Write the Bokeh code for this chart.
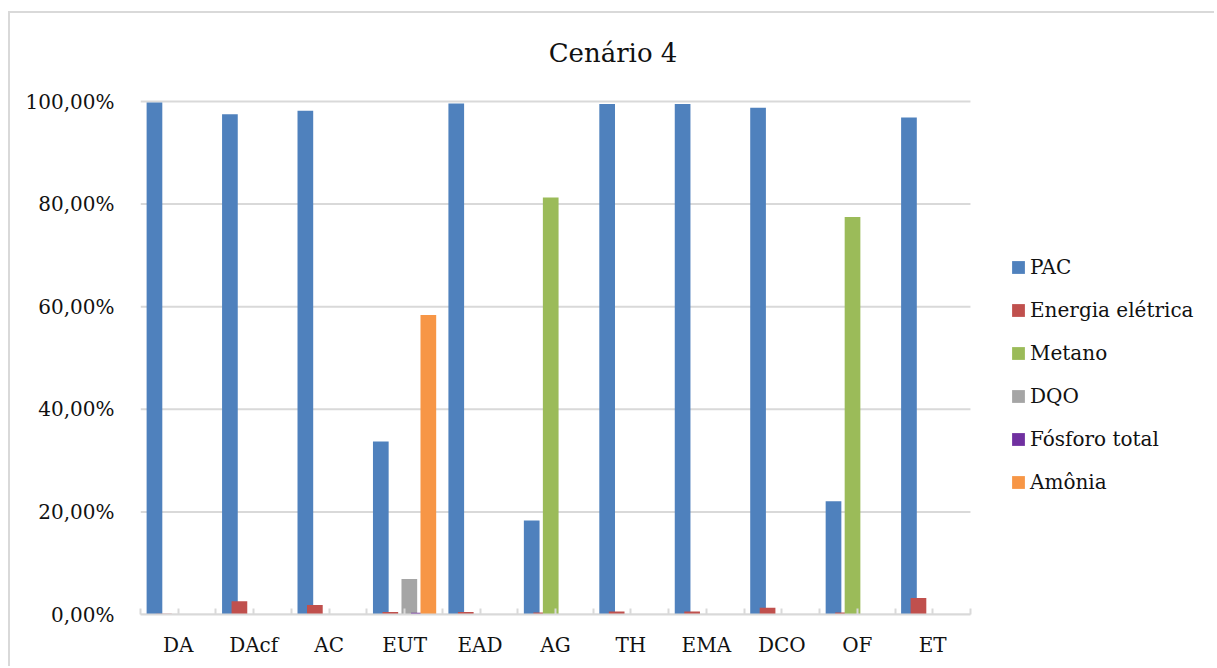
from bokeh.plotting import figure
from bokeh.models import (ColumnDataSource, FixedTicker, Legend, LegendItem, Label)
from bokeh.transform import dodge
from bokeh.embed import file_html
from bokeh.resources import INLINE

# Contribution of each impact source per process (percent), scenario 4
categories = ["DA", "DAcf", "AC", "EUT", "EAD", "AG", "TH", "EMA", "DCO", "OF", "ET"]
series_names = ["PAC", "Energia elétrica", "Metano", "DQO", "Fósforo total", "Amônia"]

pac = [99.8, 97.5, 98.2, 33.7, 99.6, 18.3, 99.5, 99.5, 98.8, 22.1, 96.9]
energia_eletrica = [0.15, 2.6, 1.85, 0.5, 0.5, 0.4, 0.6, 0.6, 1.3, 0.4, 3.2]
metano = [0, 0, 0, 0, 0, 81.3, 0, 0, 0, 77.5, 0]
dqo = [0, 0, 0, 6.9, 0, 0, 0, 0, 0, 0, 0]
fosforo_total = [0, 0, 0, 0.35, 0, 0, 0, 0, 0, 0, 0]
amonia = [0, 0, 0, 58.4, 0, 0, 0, 0, 0, 0, 0]

y_ticks = [0, 20, 40, 60, 80, 100]
y_tick_labels = ["0,00%", "20,00%", "40,00%", "60,00%", "80,00%", "100,00%"]

colors = ["#4f81bd", "#c0504d", "#9bbb59", "#a5a5a5", "#7030a0", "#f79646"]
series_values = [pac, energia_eletrica, metano, dqo, fosforo_total, amonia]
keys = ["s0", "s1", "s2", "s3", "s4", "s5"]

FONT = "DejaVu Serif"
TEXT_COLOR = "#111111"
GRID_COLOR = "#d9d9d9"

n = len(categories)
data = {"x": [i + 0.5 for i in range(n)]}
for k, vals in zip(keys, series_values):
    data[k] = vals
source = ColumnDataSource(data)

# The frame covers the whole chart box (title and legend live inside it);
# the bar area itself is the region x in [0, n], y in [0, 100].
FRAME_W, FRAME_H = 1076, 601
PX_PER_CAT, PX_PER_PCT = 75.45, 5.13

p = figure(width=130 + FRAME_W, height=FRAME_H + 54,
           x_range=(0, FRAME_W / PX_PER_CAT), y_range=(0, FRAME_H / PX_PER_PCT),
           output_backend="svg", toolbar_location=None,
           min_border_left=130, min_border_right=0,
           min_border_top=0, min_border_bottom=54,
           margin=(11, 0, 0, 8))
p.styles = {"border-left": "2px solid #d9d9d9", "border-top": "2px solid #d9d9d9"}
p.outline_line_color = None
p.background_fill_color = "white"
p.border_fill_color = "white"
p.xgrid.grid_line_color = None
p.ygrid.grid_line_color = None

# horizontal gridlines over the bar area only
p.segment(x0=0, x1=n, y0=y_ticks, y1=y_ticks,
          line_color=GRID_COLOR, line_width=2)

step = 0.126
bar_w = 0.208
renderers = []
for i, (k, c) in enumerate(zip(keys, colors)):
    r = p.vbar(x=dodge("x", (i - 2.5) * step, range=p.x_range), top=k,
               width=bar_w, bottom=0, source=source,
               fill_color=c, line_color=None)
    renderers.append(r)

# x axis: labels at category centres, small inward ticks at centres and edges
xa = p.xaxis[0]
xa.bounds = (0, n)
xa.ticker = FixedTicker(ticks=[i + 0.5 for i in range(n)],
                        minor_ticks=[float(i) for i in range(n + 1)])
xa.major_label_overrides = {i + 0.5: c for i, c in enumerate(categories)}
xa.axis_line_color = GRID_COLOR
xa.axis_line_width = 2
xa.major_tick_line_color = GRID_COLOR
xa.major_tick_line_width = 2
xa.major_tick_in = 6
xa.major_tick_out = 0
xa.minor_tick_line_color = GRID_COLOR
xa.minor_tick_line_width = 2
xa.minor_tick_in = 6
xa.minor_tick_out = 0
xa.major_label_text_font = FONT
xa.major_label_text_font_size = "20px"
xa.major_label_text_color = TEXT_COLOR
xa.major_label_standoff = 18

ya = p.yaxis[0]
ya.ticker = FixedTicker(ticks=y_ticks)
ya.major_label_overrides = {t: lab for t, lab in zip(y_ticks, y_tick_labels)}
ya.axis_line_color = None
ya.major_tick_line_color = None
ya.minor_tick_line_color = None
ya.major_label_text_font = FONT
ya.major_label_text_font_size = "20px"
ya.major_label_text_color = TEXT_COLOR
ya.major_label_standoff = 20

title = Label(x=472.5, y=562, x_units="screen", y_units="screen",
              text="Cenário 4", text_align="center", text_baseline="middle",
              text_font=FONT, text_font_size="26px", text_color=TEXT_COLOR)
p.add_layout(title)

legend = Legend(items=[LegendItem(label=nm, renderers=[r])
                       for nm, r in zip(series_names, renderers)],
                location=(870, 120), orientation="vertical",
                glyph_width=16, glyph_height=16, label_standoff=4,
                label_height=23, spacing=19, padding=0, margin=0,
                border_line_color=None, background_fill_alpha=0,
                label_text_font=FONT, label_text_font_size="20px",
                label_text_color=TEXT_COLOR)
p.add_layout(legend, "center")

open("out.html", "w").write(file_html(p, INLINE))
